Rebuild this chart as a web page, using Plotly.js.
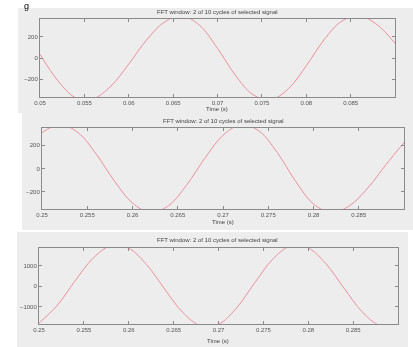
<!DOCTYPE html>
<html>
<head>
<meta charset="utf-8">
<script src="https://cdn.plot.ly/plotly-3.0.1.min.js"></script>
<style>
  html, body { margin: 0; padding: 0; background: #ffffff; }
  #chart { width: 413px; height: 347px; filter: blur(0.6px); }
</style>
</head>
<body>
<div id="chart"></div>
<script>
// ---- data ----
const panelTitles = [
  "FFT window: 2 of 10 cycles of selected signal",
  "FFT window: 2 of 10 cycles of selected signal",
  "FFT window: 2 of 10 cycles of selected signal"
];
const xAxisLabel = "Time (s)";

const time1 = [0.050,0.052,0.054,0.056,0.058,0.060,0.062,0.064,0.066,0.068,0.070,
               0.072,0.074,0.076,0.078,0.080,0.082,0.084,0.086,0.088,0.090];
const signal1 = [36,-214,-376,-386,-266,-57,170,340,400,309,92,
                 -162,-348,-396,-291,-74,172,350,398,315,140];

const time2 = [0.250,0.252,0.254,0.256,0.258,0.260,0.262,0.264,0.266,0.268,0.270,
               0.272,0.274,0.276,0.278,0.280,0.282,0.284,0.286,0.288,0.290];
const signal2 = [310,380,309,124,-108,-299,-380,-320,-141,89,287,
                 378,324,137,-107,-307,-380,-321,-169,32,224];

const time3 = [0.250,0.252,0.254,0.256,0.258,0.260,0.262,0.264,0.266,0.268,0.270,
               0.272,0.274,0.276,0.278,0.280,0.282,0.284,0.286,0.288,0.290];
const signal3 = [-1802,-962,234,1344,1954,1838,1038,-148,-1280,-1934,-1864,
                 -1074,132,1288,1944,1850,1068,-114,-1252,-1926,-1882];

const xTicks1 = [0.05,0.055,0.06,0.065,0.07,0.075,0.08,0.085];
const xTicks2 = [0.25,0.255,0.26,0.265,0.27,0.275,0.28,0.285];
const xTicks3 = [0.25,0.255,0.26,0.265,0.27,0.275,0.28,0.285];
const yTicks1 = [-200,0,200];
const yTicks2 = [-200,0,200];
const yTicks3 = [-1000,0,1000];

// ---- layout helpers (pixel geometry of the 413x347 picture) ----
const W = 413, H = 347;
const px = v => v / W;
const py = v => 1 - v / H;

const lineColor = "#ec8fa0";
const frameColor = "#8a8a8a";
const fontFam = "Liberation Sans, Arial, sans-serif";
const tickFont = { family: fontFam, size: 6, color: "#555" };

function axis(domain, ticks, range, anchor) {
  return {
    domain: domain, range: range, tickvals: ticks, anchor: anchor,
    showgrid: false, zeroline: false, showline: true, mirror: "allticks",
    linecolor: frameColor, linewidth: 1, ticks: "inside", ticklen: 3,
    tickcolor: frameColor, tickfont: tickFont, fixedrange: true
  };
}

const traces = [
  { x: time1, y: signal1, xaxis: "x", yaxis: "y", type: "scatter", mode: "lines",
    line: { color: lineColor, width: 1, shape: "spline" }, hoverinfo: "none" },
  { x: time2, y: signal2, xaxis: "x2", yaxis: "y2", type: "scatter", mode: "lines",
    line: { color: lineColor, width: 1, shape: "spline" }, hoverinfo: "none" },
  { x: time3, y: signal3, xaxis: "x3", yaxis: "y3", type: "scatter", mode: "lines",
    line: { color: lineColor, width: 1, shape: "spline" }, hoverinfo: "none" }
];

const p1 = { x: [40, 395], y: [19, 97] };
const p2 = { x: [42, 404], y: [128, 209] };
const p3 = { x: [39, 398], y: [248, 324] };

const bg = "#ededed";
const layout = {
  width: W, height: H,
  margin: { l: 0, r: 0, t: 0, b: 0 },
  paper_bgcolor: "#ffffff",
  plot_bgcolor: "#ffffff",
  showlegend: false,
  xaxis:  axis([px(p1.x[0]), px(p1.x[1])], xTicks1, [0.05, 0.09], "y"),
  yaxis:  axis([py(p1.y[1]), py(p1.y[0])], yTicks1, [-370, 370], "x"),
  xaxis2: axis([px(p2.x[0]), px(p2.x[1])], xTicks2, [0.25, 0.29], "y2"),
  yaxis2: axis([py(p2.y[1]), py(p2.y[0])], yTicks2, [-350, 350], "x2"),
  xaxis3: axis([px(p3.x[0]), px(p3.x[1])], xTicks3, [0.25, 0.29], "y3"),
  yaxis3: axis([py(p3.y[1]), py(p3.y[0])], yTicks3, [-1850, 1850], "x3"),
  shapes: [
    { type: "rect", xref: "paper", yref: "paper", layer: "below", line: { width: 0 },
      fillcolor: bg, x0: px(18), x1: px(413), y0: py(113), y1: py(8) },
    { type: "rect", xref: "paper", yref: "paper", layer: "below", line: { width: 0 },
      fillcolor: bg, x0: px(22), x1: px(413), y0: py(230), y1: py(113) },
    { type: "rect", xref: "paper", yref: "paper", layer: "below", line: { width: 0 },
      fillcolor: bg, x0: px(17), x1: px(408), y0: py(347), y1: py(232) }
  ],
  annotations: [
    { text: "g", xref: "paper", yref: "paper", x: px(26), y: py(-1), showarrow: false,
      font: { family: fontFam, size: 9, color: "#000" },
      xanchor: "center", yanchor: "top" },
    { text: panelTitles[0], xref: "paper", yref: "paper", x: px(217), y: py(12.5), showarrow: false,
      font: { family: fontFam, size: 6, color: "#444" }, yanchor: "middle" },
    { text: xAxisLabel, xref: "paper", yref: "paper", x: px(217), y: py(108.5), showarrow: false,
      font: { family: fontFam, size: 6, color: "#444" }, yanchor: "middle" },
    { text: panelTitles[1], xref: "paper", yref: "paper", x: px(223), y: py(121), showarrow: false,
      font: { family: fontFam, size: 6, color: "#444" }, yanchor: "middle" },
    { text: xAxisLabel, xref: "paper", yref: "paper", x: px(223), y: py(222), showarrow: false,
      font: { family: fontFam, size: 6, color: "#444" }, yanchor: "middle" },
    { text: panelTitles[2], xref: "paper", yref: "paper", x: px(218), y: py(240), showarrow: false,
      font: { family: fontFam, size: 6, color: "#444" }, yanchor: "middle" },
    { text: xAxisLabel, xref: "paper", yref: "paper", x: px(218), y: py(341), showarrow: false,
      font: { family: fontFam, size: 6, color: "#444" }, yanchor: "middle" }
  ]
};

Plotly.newPlot("chart", traces, layout, { staticPlot: true, displayModeBar: false });
</script>
</body>
</html>
